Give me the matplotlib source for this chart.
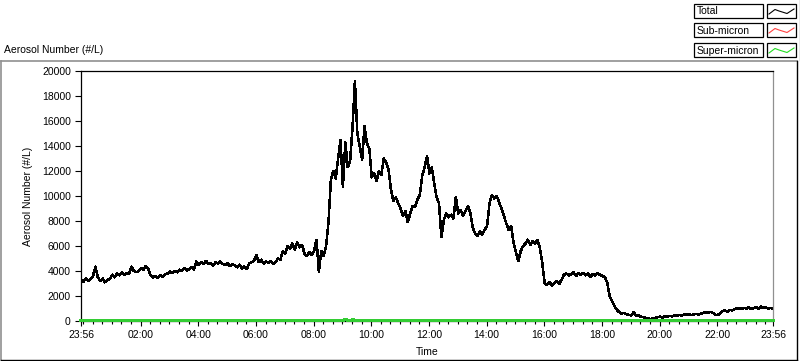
import numpy as np
import matplotlib
matplotlib.use("Agg")
from matplotlib import pyplot as plt
from matplotlib.lines import Line2D
from matplotlib.patches import Rectangle

# sample times, minutes after 23:56 (5 minute readings)
sample_minutes = np.arange(0, 1441, 5)

# Total aerosol number (#/L), one row per hour after 23:56
total_counts = [
    3300, 3150, 3400, 3200, 3350, 3600, 4350, 3500, 3200, 3400, 3100, 3300,
    3350, 3700, 3500, 3800, 3650, 3900, 3700, 3850, 3750, 4350, 4000, 3900,
    4000, 4250, 4100, 4400, 4150, 3650, 3500, 3600, 3450, 3650, 3550, 3750,
    3800, 3950, 3850, 4000, 3900, 4100, 4000, 4250, 4050, 4150, 4300, 4100,
    4750, 4500, 4700, 4550, 4800, 4600, 4650, 4450, 4700, 4600, 4750, 4550,
    4500, 4600, 4400, 4550, 4450, 4300, 4500, 4200, 4350, 4150, 4600, 4700,
    4800, 5300, 4700, 4900, 4600, 4750, 4650, 4800, 4550, 4700, 5000, 4900,
    5600, 5400, 6000, 5800, 6200, 5700, 6300, 5900, 6100, 5400, 5200, 5500,
    5300, 5600, 6500, 3950, 5600, 5200, 6000, 7900, 11300, 12000, 11400, 13000,
    14500, 10700, 14300, 12300, 12800, 15500, 19200, 15000, 14000, 12900, 15600, 14200,
    13800, 11500, 11800, 11200, 12000, 11700, 13000, 12700, 12100, 10500, 9600, 9900,
    9400, 9000, 8400, 8800, 7900, 8600, 9200, 9100, 9700, 10100, 11600, 12300,
    13200, 11800, 12300, 11000, 9900, 9400, 6700, 8100, 8600, 8300, 8500, 8200,
    9900, 8600, 8900, 8400, 8800, 9200, 8700, 7500, 7000, 6800, 7200, 6900,
    7300, 7600, 9400, 10100, 9800, 10000, 9500, 9000, 8400, 7800, 7300, 7600,
    6300, 5500, 4800, 5600, 6000, 6200, 6500, 6100, 6400, 6200, 6500, 5800,
    4600, 3000, 2900, 3100, 2850, 3000, 3200, 2950, 3300, 3700, 3800, 3650,
    3750, 3900, 3600, 3800, 3700, 3850, 3650, 3800, 3550, 3750, 3650, 3800,
    3700, 3600, 3500, 3100, 2000, 1600, 1200, 900, 700, 600, 650, 550,
    500, 450, 700, 400, 450, 350, 300, 250, 200, 150, 200, 250,
    300, 350, 280, 380, 350, 400, 370, 450, 400, 480, 450, 520,
    500, 550, 480, 520, 580, 500, 600, 650, 700, 680, 720, 650,
    500, 480, 600, 800, 850, 750, 900, 850, 950, 1000, 1050, 950,
    1050, 1000, 1100, 950, 1050, 1100, 1000, 1150, 1050, 1100, 1000, 1050,
    950,
]
# sub-micron sits right under the total trace
sub_micron_counts = list(total_counts)

# super-micron stays near zero, a small bump after 09:00
super_minutes = [0, 545, 548, 552, 556, 562, 566, 570, 1440]
super_counts = [20, 20, 120, 110, 20, 20, 110, 20, 20]

major_minutes = [0, 124, 244, 364, 484, 604, 724, 844, 964, 1084, 1204, 1324, 1440]
major_labels = ["23:56", "02:00", "04:00", "06:00", "08:00", "10:00", "12:00",
                "14:00", "16:00", "18:00", "20:00", "22:00", "23:56"]
y_ticks = [0, 2000, 4000, 6000, 8000, 10000, 12000, 14000, 16000, 18000, 20000]

legend_names = ["Total", "Sub-micron", "Super-micron"]
legend_colors = ["black", "#ff4040", "#22dd22"]

W, H = 800, 361
plt.rcParams['font.family'] = ['Liberation Sans', 'DejaVu Sans']
plt.rcParams['font.size'] = 7.5


def fx(x):
    return x / W


def fy(y):
    return 1 - y / H


fig = plt.figure(figsize=(W / 100, H / 100), dpi=100)
fig.patch.set_facecolor("white")

ax = fig.add_axes([fx(81), fy(321), (773 - 81) / W, (321 - 71) / H])
ax.plot(sample_minutes, sub_micron_counts, color="#ff4040", lw=1.0, antialiased=False)
ax.plot(sample_minutes, total_counts, color="black", lw=1.1, antialiased=False)
ax.plot(super_minutes, super_counts, color="#33cc33", lw=1.6, clip_on=False,
        zorder=5, antialiased=False)

ax.set_xlim(0, 1440)
ax.set_ylim(0, 20000)
ax.set_yticks(y_ticks)
ax.set_yticklabels([str(v) for v in y_ticks])
ax.set_xticks(major_minutes)
ax.set_xticklabels(major_labels)
minor = [m for m in range(4, 1440, 20) if m not in major_minutes]
ax.set_xticks(minor, minor=True)
ax.tick_params(axis="y", length=4.3, width=0.8, pad=3, direction="out")
ax.tick_params(axis="x", which="major", length=3.8, width=0.8, pad=3, direction="out")
ax.tick_params(axis="x", which="minor", length=2.2, width=0.8, direction="out")

for side in ["left", "top", "bottom"]:
    ax.spines[side].set_color("black")
    ax.spines[side].set_linewidth(0.9)
ax.spines["right"].set_color("#909090")
ax.spines["right"].set_linewidth(0.9)

ax.set_ylabel("Aerosol Number (#/L)")
ax.yaxis.set_label_coords((33 - 81) / 692, 0.5)
ax.set_xlabel("Time", va="center")
ax.xaxis.set_label_coords(0.5, -(352 - 321) / 250)

# title above the frame
fig.text(fx(4), fy(50), "Aerosol Number (#/L)", ha="left", va="center")

# outer panel frame
fig.add_artist(Line2D([fx(0.5), fx(797)], [fy(61), fy(61)], color="#909090", lw=1.2))
fig.add_artist(Line2D([fx(0.8), fx(0.8)], [fy(61), fy(360)], color="#909090", lw=1.2))
fig.add_artist(Line2D([fx(797), fx(797)], [fy(61), fy(360)], color="black", lw=1.0))
fig.add_artist(Line2D([fx(0.5), fx(797)], [fy(360), fy(360)], color="black", lw=1.0))

# legend boxes on the top right
row_tops = [4, 23, 43]
for top, name, col in zip(row_tops, legend_names, legend_colors):
    fig.add_artist(Rectangle((fx(694), fy(top + 14)), 69 / W, 14 / H,
                             transform=fig.transFigure, fill=False,
                             edgecolor="black", lw=0.9))
    fig.text(fx(697), fy(top + 7.5), name, ha="left", va="center")
    fig.add_artist(Rectangle((fx(767), fy(top + 14)), 29 / W, 14 / H,
                             transform=fig.transFigure, fill=False,
                             edgecolor="black", lw=0.9))
    zx = [769, 775, 779, 787, 794]
    zy = [top + 10, top + 5.5, top + 7, top + 9.5, top + 5]
    fig.add_artist(Line2D([fx(v) for v in zx], [fy(v) for v in zy], color=col, lw=0.8))
fig.add_artist(Line2D([fx(799.5), fx(799.5)], [fy(0), fy(60)], color="#909090", lw=1.0))

fig.savefig("out.png", dpi=100)
